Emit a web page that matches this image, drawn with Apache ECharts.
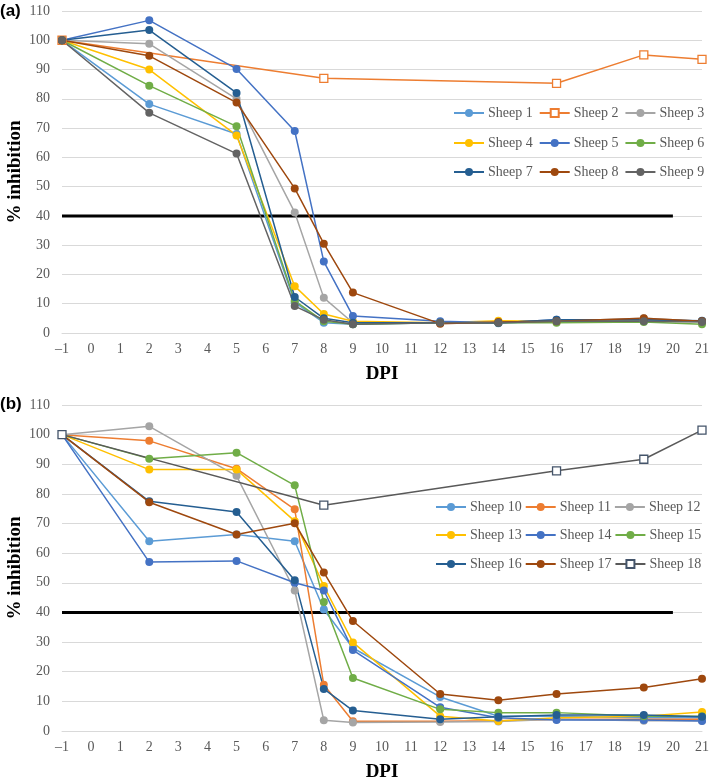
<!DOCTYPE html>
<html>
<head>
<meta charset="utf-8">
<script src="https://cdn.jsdelivr.net/npm/echarts@6/dist/echarts.min.js"></script>
<style>
  html, body { margin: 0; padding: 0; background: #fff; }
  #chart { width: 709px; height: 782px; }
</style>
</head>
<body>
<div id="chart"></div>
<script>
// days post infection
var days = [-1, 2, 5, 7, 8, 9, 12, 14, 16, 19, 21]
var daysSparse = [-1, 8, 16, 19, 21]

// panel (a)
var sheep1 = [100, 78.2, 68, 10.5, 3.5, 3, 3.5, 3.3, 4, 4, 4]
var sheep2 = [100, 87, 85.3, 95, 93.5]
var sheep3 = [100, 98.8, 80, 41.2, 12, 3.5, 3.5, 3.5, 4, 5, 4]
var sheep4 = [100, 90, 67.5, 16, 6.5, 4, 3.5, 4.2, 4, 4.5, 4]
var sheep5 = [100, 106.8, 90.2, 69, 24.4, 5.8, 4, 3.5, 4.5, 4.5, 4]
var sheep6 = [100, 84.5, 70.6, 11, 4, 3, 3.5, 3.5, 3.5, 3.8, 3]
var sheep7 = [100, 103.5, 82, 12.3, 5, 3.5, 3.5, 3.5, 4.5, 4.5, 4.2]
var sheep8 = [100, 94.7, 78.7, 49.4, 30.5, 13.8, 3.2, 3.8, 4, 5, 4]
var sheep9 = [100, 75.2, 61.3, 9.2, 4.5, 3, 3.5, 3.5, 4, 4, 3.8]

// panel (b)
var sheep10 = [100, 64, 66.3, 64, 41, 28, 11.5, 5, 5, 4.5, 4.5]
var sheep11 = [100, 97.9, 88.5, 74.8, 15.6, 3.3, 3.3, 3.5, 4, 4, 4]
var sheep12 = [100, 102.8, 86.1, 47.4, 3.6, 2.9, 3, 3.2, 4, 3.5, 3.5]
var sheep13 = [100, 88.2, 88.2, 70.8, 48.9, 29.9, 5, 3.4, 4.5, 5, 6.4]
var sheep14 = [100, 57, 57.4, 50, 47.4, 27.3, 8, 4.5, 3.7, 3.7, 3.4]
var sheep15 = [100, 91.9, 93.9, 82.9, 43.5, 17.9, 7.3, 6.2, 6.2, 5, 5]
var sheep16 = [100, 77.5, 73.9, 50.9, 14.2, 6.9, 4, 4.8, 5.4, 5.4, 4.8]
var sheep17 = [100, 77.2, 66.3, 70.1, 53.5, 37.1, 12.5, 10.4, 12.5, 14.7, 17.6]
var sheep18 = [100, 76.2, 87.8, 91.7, 101.5]

var cutoff = 40
var cutoffDays = [-1, 20]

var yTicks = { min: 0, max: 110, interval: 10 }
var xTicks = { min: -1, max: 21, interval: 1 }

var serif = 'Liberation Serif'
var grey = '#595959'

function zip(xs, ys) {
  return xs.map(function(x, i) { return [x, ys[i]] })
}

function sheepSeries(name, color, xs, ys, panel, open, lineColor) {
  return {
    name: name,
    type: 'line',
    xAxisIndex: panel,
    yAxisIndex: panel,
    data: zip(xs, ys),
    symbol: open ? 'rect' : 'circle',
    symbolSize: 8,
    color: color,
    lineStyle: { color: lineColor || color, width: 1.5 },
    itemStyle: open
      ? { color: '#fff', borderColor: color, borderWidth: 1.3 }
      : { color: color, borderColor: color, borderWidth: 0 },
    z: 3
  }
}

function cutoffSeries(panel) {
  return {
    name: 'cutoff' + panel,
    type: 'line',
    xAxisIndex: panel,
    yAxisIndex: panel,
    data: cutoffDays.map(function(d) { return [d, cutoff] }),
    symbol: 'none',
    silent: true,
    lineStyle: { color: '#000', width: 3 },
    z: 2
  }
}

function xAxis(panel) {
  return {
    type: 'value',
    gridIndex: panel,
    min: xTicks.min,
    max: xTicks.max,
    interval: xTicks.interval,
    name: 'DPI',
    nameLocation: 'middle',
    nameGap: 32,
    nameTextStyle: { fontFamily: serif, fontWeight: 'bold', fontSize: 19, color: '#000' },
    axisLine: { show: true, lineStyle: { color: '#d9d9d9', width: 1 } },
    axisTick: { show: false },
    splitLine: { show: false },
    axisLabel: {
      fontFamily: serif,
      fontSize: 14,
      color: grey,
      margin: 9,
      formatter: function(v) { return String(v).replace('-', '\u2013') }
    }
  }
}

function yAxis(panel) {
  return {
    type: 'value',
    gridIndex: panel,
    min: yTicks.min,
    max: yTicks.max,
    interval: yTicks.interval,
    name: '% inhibition',
    nameLocation: 'middle',
    nameGap: 37,
    nameMoveOverlap: false,
    nameTextStyle: { fontFamily: serif, fontWeight: 'bold', fontSize: 19, color: '#000' },
    axisLine: { show: false },
    axisTick: { show: false },
    splitLine: { lineStyle: { color: '#d9d9d9', width: 1 } },
    axisLabel: { fontFamily: serif, fontSize: 14, color: grey, margin: 12 }
  }
}

function legendRow(names, left, top, gap) {
  return {
    data: names,
    left: left,
    top: top,
    orient: 'horizontal',
    padding: 0,
    itemGap: gap,
    itemWidth: 30,
    itemHeight: 10,
    selectedMode: false,
    textStyle: { fontFamily: serif, fontSize: 14, color: grey, padding: [0, 0, 0, -1] }
  }
}

var chart = echarts.init(document.getElementById('chart'))

var option = {
  animation: false,
  backgroundColor: '#fff',
  grid: [
    { left: 62, top: 11, width: 640, height: 322, outerBoundsMode: 'none' },
    { left: 62, top: 405, width: 640, height: 326, outerBoundsMode: 'none' }
  ],
  xAxis: [xAxis(0), xAxis(1)],
  yAxis: [yAxis(0), yAxis(1)],
  legend: [
    legendRow(['Sheep 1', 'Sheep 2', 'Sheep 3'], 453, 106, 6),
    legendRow(['Sheep 4', 'Sheep 5', 'Sheep 6'], 453, 136, 6),
    legendRow(['Sheep 7', 'Sheep 8', 'Sheep 9'], 453, 165, 6),
    legendRow(['Sheep 10', 'Sheep 11', 'Sheep 12'], 435, 500, 3),
    legendRow(['Sheep 13', 'Sheep 14', 'Sheep 15'], 435, 528, 3),
    legendRow(['Sheep 16', 'Sheep 17', 'Sheep 18'], 435, 557, 3)
  ],
  graphic: [
    { type: 'text', left: 0, top: 3, style: { text: '(a)', font: 'bold 17px "Liberation Sans"', fill: '#000' } },
    { type: 'text', left: 0, top: 396, style: { text: '(b)', font: 'bold 17px "Liberation Sans"', fill: '#000' } }
  ],
  series: [
    cutoffSeries(0),
    sheepSeries('Sheep 1', '#5B9BD5', days, sheep1, 0),
    sheepSeries('Sheep 2', '#ED7D31', daysSparse, sheep2, 0, true),
    sheepSeries('Sheep 3', '#A5A5A5', days, sheep3, 0),
    sheepSeries('Sheep 4', '#FFC000', days, sheep4, 0),
    sheepSeries('Sheep 5', '#4472C4', days, sheep5, 0),
    sheepSeries('Sheep 6', '#70AD47', days, sheep6, 0),
    sheepSeries('Sheep 7', '#255E91', days, sheep7, 0),
    sheepSeries('Sheep 8', '#9E480E', days, sheep8, 0),
    sheepSeries('Sheep 9', '#636363', days, sheep9, 0),
    cutoffSeries(1),
    sheepSeries('Sheep 10', '#5B9BD5', days, sheep10, 1),
    sheepSeries('Sheep 11', '#ED7D31', days, sheep11, 1),
    sheepSeries('Sheep 12', '#A5A5A5', days, sheep12, 1),
    sheepSeries('Sheep 13', '#FFC000', days, sheep13, 1),
    sheepSeries('Sheep 14', '#4472C4', days, sheep14, 1),
    sheepSeries('Sheep 15', '#70AD47', days, sheep15, 1),
    sheepSeries('Sheep 16', '#255E91', days, sheep16, 1),
    sheepSeries('Sheep 17', '#9E480E', days, sheep17, 1),
    sheepSeries('Sheep 18', '#44546A', daysSparse, sheep18, 1, true, '#595959')
  ]
}

chart.setOption(option)
</script>
</body>
</html>
